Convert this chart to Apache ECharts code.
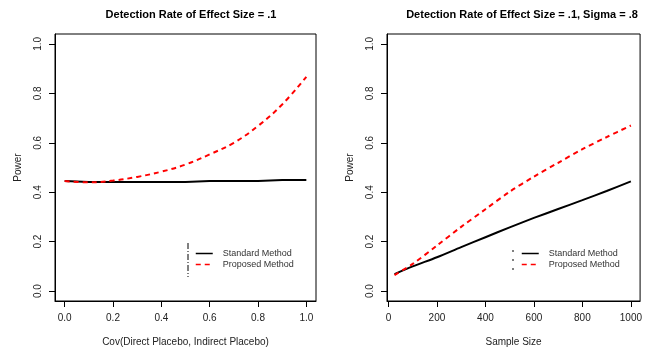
<!DOCTYPE html>
<html>
<head>
<meta charset="utf-8">
<script src="https://cdn.jsdelivr.net/npm/echarts@6/dist/echarts.min.js"></script>
<style>
  html, body { margin: 0; padding: 0; background: #fff; }
  #chart { width: 645px; height: 352px; }
</style>
</head>
<body>
<div id="chart"></div>
<script>
// left panel: power vs covariance
let covX = [0.0, 0.1, 0.2, 0.3, 0.4, 0.5, 0.6, 0.7, 0.8, 0.9, 1.0];
let covStandard = [0.445, 0.441, 0.441, 0.441, 0.441, 0.441, 0.445, 0.445, 0.445, 0.449, 0.449];
let covProposed = [0.445, 0.440, 0.447, 0.462, 0.483, 0.512, 0.553, 0.600, 0.668, 0.755, 0.867];

// right panel: power vs sample size
let sizeX = [25, 100, 200, 300, 400, 500, 600, 700, 800, 900, 1000];
let sizeStandard = [0.069, 0.100, 0.137, 0.178, 0.218, 0.258, 0.296, 0.332, 0.368, 0.405, 0.444];
let sizeProposed = [0.065, 0.110, 0.184, 0.260, 0.331, 0.402, 0.463, 0.519, 0.574, 0.623, 0.670];

let powerTicks = [0, 0.2, 0.4, 0.6, 0.8, 1.0];
let covTicks = [0, 0.2, 0.4, 0.6, 0.8, 1.0];
let sizeTicks = [0, 200, 400, 600, 800, 1000];

let names = ["Standard Method", "Proposed Method"];
let font = "Liberation Sans";

function zip(xs, ys) {
    let out = [];
    for (let i = 0; i < xs.length; i++) out.push([xs[i], ys[i]]);
    return out;
}

// R-style axis: ticks outside the box, labels a bit further out
function xAxisFor(idx, min, max, ticks, name, fmt) {
    return {
        type: 'value', gridIndex: idx, min: min, max: max,
        name: name, nameLocation: 'middle', nameGap: 36,
        nameTextStyle: { fontFamily: font, fontSize: 10, color: '#222' },
        axisLine: { show: true, onZero: false, lineStyle: { color: '#000', width: 1 } },
        splitLine: { show: false },
        axisTick: { show: true, length: 6, customValues: ticks, lineStyle: { color: '#000', width: 1 } },
        axisLabel: { customValues: ticks, margin: 12, fontFamily: font, fontSize: 10, color: '#222', formatter: fmt }
    };
}

function yAxisFor(idx) {
    return {
        type: 'value', gridIndex: idx, min: -0.04, max: 1.04,
        name: 'Power', nameLocation: 'middle', nameGap: 32, nameRotate: 90,
        nameTextStyle: { fontFamily: font, fontSize: 10, color: '#222' },
        axisLine: { show: true, onZero: false, lineStyle: { color: '#000', width: 1 } },
        splitLine: { show: false },
        axisTick: { show: true, length: 6, customValues: powerTicks, lineStyle: { color: '#000', width: 1 } },
        axisLabel: { customValues: powerTicks, rotate: 90, margin: 12, fontFamily: font, fontSize: 10, color: '#222',
                     formatter: v => v.toFixed(1) }
    };
}

function legendFor(left) {
    return {
        orient: 'vertical', left: left, top: 249, padding: 0,
        itemWidth: 17, itemHeight: 10, itemGap: 2,
        data: names,
        itemStyle: { color: 'rgba(0,0,0,0)', borderWidth: 0, opacity: 0 },
        lineStyle: { width: 1.5 },
        textStyle: { fontFamily: font, fontSize: 9, color: '#333', padding: [0, 0, 0, 5] }
    };
}

let blackLine = { color: '#000', width: 2, type: 'solid' };
let redLine = { color: '#ff0000', width: 2, type: [5, 4] };

let chart = echarts.init(document.getElementById('chart'));

let option = {
    backgroundColor: '#fff',
    animation: false,
    title: [
        { text: 'Detection Rate of Effect Size = .1', left: 186, top: 4, textAlign: 'center',
          textStyle: { fontFamily: font, fontSize: 11, fontWeight: 'bold', color: '#000' } },
        { text: 'Detection Rate of Effect Size = .1, Sigma = .8', left: 517, top: 4, textAlign: 'center',
          textStyle: { fontFamily: font, fontSize: 11, fontWeight: 'bold', color: '#000' } }
    ],
    grid: [
        { left: 55, top: 34, width: 261, height: 268, show: true, borderColor: '#000', borderWidth: 1 },
        { left: 387, top: 34, width: 261, height: 268, show: true, borderColor: '#000', borderWidth: 1 }
    ],
    xAxis: [
        xAxisFor(0, -0.04, 1.04, covTicks, 'Cov(Direct Placebo, Indirect Placebo)', v => v.toFixed(1)),
        xAxisFor(1, -6, 1038, sizeTicks, 'Sample Size', v => String(v))
    ],
    yAxis: [yAxisFor(0), yAxisFor(1)],
    legend: [legendFor(195), legendFor(521)],
    graphic: [
        { type: 'line', shape: { x1: 188, y1: 243, x2: 188, y2: 277 },
          style: { stroke: '#000', lineWidth: 1, lineDash: [6, 2, 1, 2] } },
        { type: 'line', shape: { x1: 513, y1: 250, x2: 513, y2: 270 },
          style: { stroke: '#000', lineWidth: 1, lineDash: [2, 7] } }
    ],
    series: [
        { name: names[0], type: 'line', xAxisIndex: 0, yAxisIndex: 0, data: zip(covX, covStandard),
          symbol: 'none', lineStyle: blackLine, itemStyle: { color: '#000' } },
        { name: names[1], type: 'line', xAxisIndex: 0, yAxisIndex: 0, data: zip(covX, covProposed),
          symbol: 'none', smooth: 0.4, lineStyle: redLine, itemStyle: { color: '#ff0000' } },
        { name: names[0], type: 'line', xAxisIndex: 1, yAxisIndex: 1, data: zip(sizeX, sizeStandard),
          symbol: 'none', smooth: 0.3, lineStyle: blackLine, itemStyle: { color: '#000' } },
        { name: names[1], type: 'line', xAxisIndex: 1, yAxisIndex: 1, data: zip(sizeX, sizeProposed),
          symbol: 'none', smooth: 0.3, lineStyle: redLine, itemStyle: { color: '#ff0000' } }
    ]
};

chart.setOption(option);
</script>
</body>
</html>
